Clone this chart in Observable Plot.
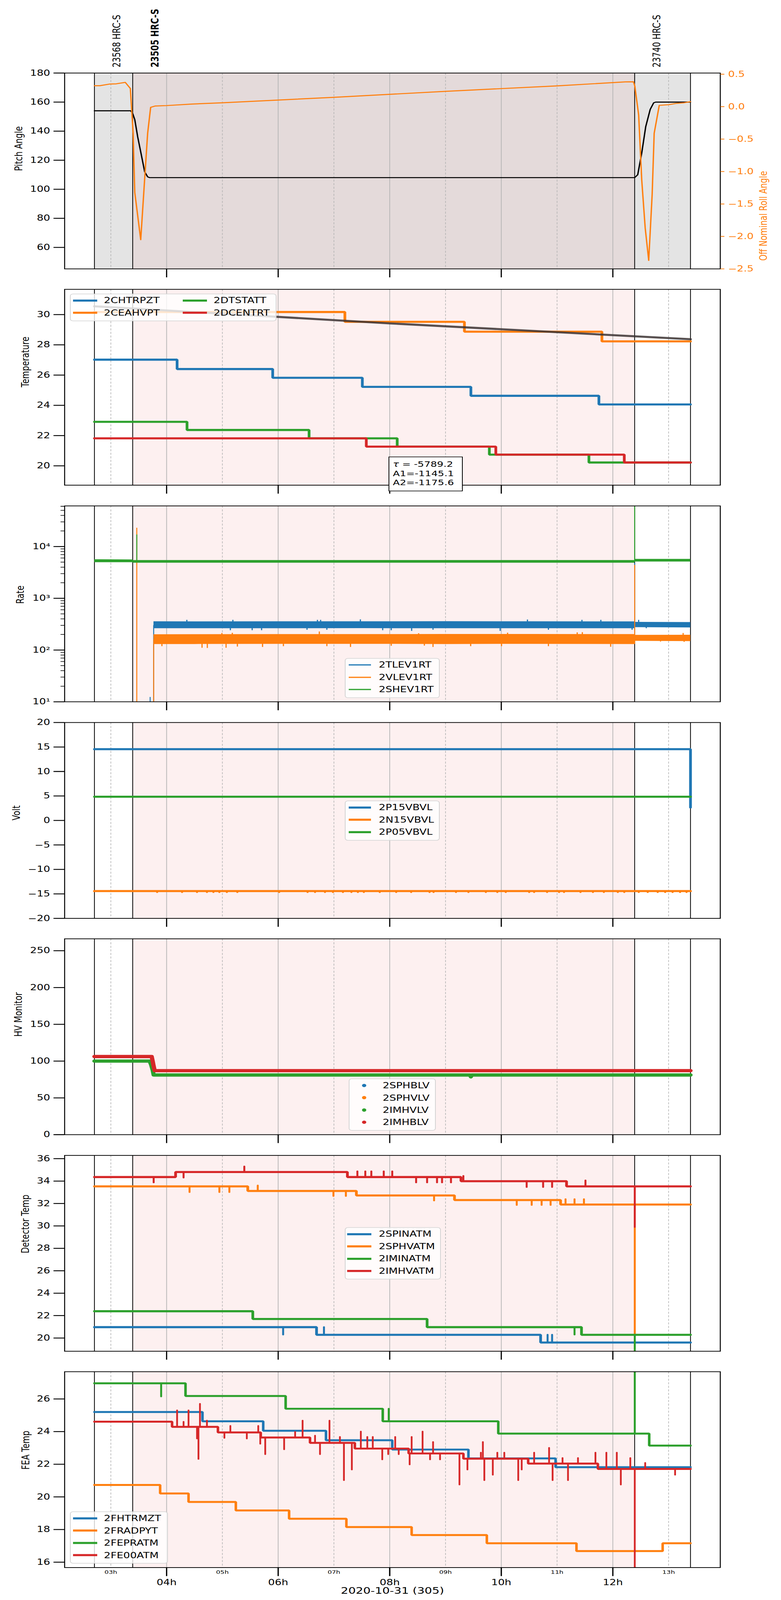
<!DOCTYPE html>
<html><head><meta charset="utf-8">
<script src="https://cdn.jsdelivr.net/npm/d3@7"></script>
<script src="https://cdn.jsdelivr.net/npm/@observablehq/plot@0.6"></script>
<style>
html,body{margin:0;padding:0;background:#fff;font-family:"DejaVu Sans",sans-serif;overflow:hidden;}
#wrap{position:relative;width:2000px;overflow:hidden;background:#fff;}
#fig{position:absolute;left:0;top:0;width:2000px;height:5400px;background:#fff;transform-origin:0 0;}
.legend{position:absolute;background:rgba(255,255,255,0.8);border:2px solid #d3d3d3;border-radius:8px;box-sizing:border-box;font-size:27px;color:#000;}
.legend .lab{position:absolute;line-height:1;white-space:nowrap;transform:translateY(-50%);}
.note{position:absolute;background:#fff;border:2px solid #000;box-sizing:border-box;font-size:26px;line-height:30.5px;padding:9px 0 0 9px;white-space:nowrap;}
</style></head>
<body><div id="wrap"><div id="fig"></div></div>
<script>
// ================= DATA (hours UTC on 2020-10-31) =================
const dateLabel = "2020-10-31 (305)";
const majorHours = [4, 6, 8, 10, 12];
const majorLabels = ["04h", "06h", "08h", "10h", "12h"];
const minorHours = [3, 5, 7, 9, 11, 13];
const minorLabels = ["03h", "05h", "07h", "09h", "11h", "13h"];
const obsIds = ["23568 HRC-S", "23505 HRC-S", "23740 HRC-S"];
const obsStart = [2.706, 3.392, 12.391];
const obsStop = [3.392, 12.391, 13.392];
const currentObs = 1;

// Pitch / roll
const pitchT = [2.706, 3.357, 3.393, 3.429, 3.482, 3.545, 3.607, 3.661, 3.696, 12.391, 12.446, 12.518, 12.589, 12.670, 12.732, 12.768, 13.392];
const pitchV = [154, 154, 152, 148, 136, 124, 112, 108.5, 108, 108, 110, 125, 143, 155, 159.5, 160, 160];
const rollT = [2.706, 2.804, 2.986, 3.098, 3.259, 3.350, 3.400, 3.429, 3.536, 3.600, 3.660, 3.714, 3.798, 4.001, 4.456, 5.001, 7.003, 8.997, 10.999, 12.223, 12.370, 12.394, 12.463, 12.518, 12.580, 12.643, 12.705, 12.741, 12.832, 13.000, 13.133, 13.280, 13.392];
const rollV = [0.323, 0.323, 0.349, 0.352, 0.374, 0.28, -0.41, -1.32, -2.05, -1.2, -0.41, -0.01, 0.01, 0.017, 0.04, 0.06, 0.144, 0.236, 0.32, 0.382, 0.383, 0.317, -0.13, -1.13, -1.87, -2.37, -1.35, -0.41, 0.02, 0.03, 0.05, 0.06, 0.077];

// Temperature
const tempNames = ["2CHTRPZT", "2CEAHVPT", "2DTSTATT", "2DCENTRT"];
const chtrT = [2.706, 4.188, 5.902, 7.509, 9.455, 11.750, 13.392];
const chtrV = [27.02, 26.40, 25.82, 25.22, 24.63, 24.06, 24.06];
const ceahT = [2.706, 7.196, 9.339, 11.804, 13.392];
const ceahV = [30.17, 29.52, 28.87, 28.23, 28.23];
const dtstT = [2.706, 4.366, 6.554, 8.134, 9.786, 11.571, 13.392];
const dtstV = [22.91, 22.37, 21.82, 21.27, 20.74, 20.22, 20.22];
const dcenT = [2.706, 7.580, 9.902, 12.205, 13.392];
const dcenV = [21.82, 21.27, 20.74, 20.22, 20.22];
const fitT = [2.706, 8.0, 13.392];
const fitV = [30.55, 29.42, 28.37];
const fitText = ["τ = -5789.2", "A1=-1145.1", "A2=-1175.6"];

// Rates
const rateNames = ["2TLEV1RT", "2VLEV1RT", "2SHEV1RT"];
const rateTicks = [10, 100, 1000, 10000];
const rateTickLabels = ["10¹", "10²", "10³", "10⁴"];
const greenBandT = [2.706, 3.392, 3.40, 12.385, 12.40, 13.392];
const greenLo = [4950, 4950, 4850, 4850, 5100, 5100];
const greenHi = [5650, 5600, 5450, 5450, 5750, 5750];
const bandT = [3.768, 4.5, 6, 7.5, 9, 10.5, 12.385, 12.40, 13.392];
const blueLo = [262, 262, 262, 263, 262, 262, 262, 275, 272];
const blueHi = [357, 356, 357, 357, 358, 357, 355, 348, 345];
const orangeLo = [130, 130, 131, 131, 130, 131, 130, 150, 148];
const orangeHi = [200, 201, 202, 202, 203, 203, 202, 195, 196];
const blueSpikeT = [4.363, 5.188, 6.704, 6.761, 7.474, 10.469, 11.446, 11.785, 12.463, 5.143, 5.534, 5.703, 6.517, 6.873, 7.874, 8.027, 8.393, 8.776, 9.980, 10.845, 12.345, 12.599];
const blueSpikeV = [381, 381, 381, 381, 389, 386, 381, 381, 381, 240, 240, 240, 245, 245, 240, 240, 233, 245, 233, 245, 245, 262];
const orangeSpikeT = [4.991, 5.178, 6.738, 8.518, 10.113, 11.361, 11.453, 13.260, 3.916, 4.635, 4.730, 5.066, 5.269, 5.720, 6.094, 6.873, 7.297, 8.027, 8.621, 8.776, 9.451, 10.004, 10.845, 11.961, 12.855, 13.278];
const orangeSpikeV = [212, 214, 227, 210, 215, 218, 220, 212, 118, 110, 109, 110, 116, 114, 118, 118, 114, 120, 121, 114, 118, 118, 118, 115, 145, 143];
const blueEventT = [3.705, 3.768, 12.391];
const blueEventFrom = [0.1, 0.1, 300];
const blueEventTo = [12.3, 300, 4800];
const orangeEventT = [3.465, 3.768, 12.391];
const orangeEventFrom = [0.1, 0.1, 130];
const orangeEventTo = [23000, 160, 4400];
const greenEventT = [3.465, 12.391];
const greenEventFrom = [5200, 5200];
const greenEventTo = [17000, 1e6];

// Volt
const voltNames = ["2P15VBVL", "2N15VBVL", "2P05VBVL"];
const p15T = [2.706, 13.390, 13.392];
const p15V = [14.55, 14.55, 2.65];
const n15T = [2.706, 13.392];
const n15V = [-14.43, -14.43];
const n15DipT = [3.830, 4.277, 4.545, 4.723, 4.839, 4.946, 5.080, 5.268, 6.018, 6.527, 6.661, 6.839, 6.982, 7.161, 7.313, 7.429, 7.536, 7.821, 8.116, 8.384, 8.714, 8.786, 9.188, 9.411, 9.723, 9.929, 10.080, 10.500, 10.589, 10.821, 11.036, 11.125, 11.420, 11.643, 11.839, 12.089, 12.205, 12.464, 12.625, 12.804, 12.938, 13.071, 13.205, 13.321];
const n15DipV = -14.70;
const p05T = [2.706, 13.392];
const p05V = [4.85, 4.85];

// HV monitor
const hvNames = ["2SPHBLV", "2SPHVLV", "2IMHVLV", "2IMHBLV"];
const imhvlvT = [2.706, 3.696, 3.723, 3.750, 3.768, 9.440, 9.455, 9.470, 13.392];
const imhvlvV = [100, 100, 95, 88, 81.1, 81.1, 78.6, 81.1, 81.1];
const imhblvT = [2.706, 3.732, 3.750, 3.768, 3.786, 13.392];
const imhblvV = [106.2, 106.2, 100, 93, 87, 87];

// Detector temp
const detNames = ["2SPINATM", "2SPHVATM", "2IMINATM", "2IMHVATM"];
const spinT = [2.706, 6.688, 10.705, 13.392];
const spinV = [20.97, 20.29, 19.60, 19.60];
const spinSpikeT = [6.089, 6.821, 10.830, 10.911];
const spinSpikeV = [20.29, 20.97, 20.29, 20.29];
const sphvT = [2.706, 5.455, 7.402, 9.161, 11.063, 13.392];
const sphvV = [33.53, 33.12, 32.72, 32.31, 31.91, 31.91];
const sphvSpikeT = [4.411, 4.946, 5.125, 5.634, 6.991, 7.214, 8.795, 10.277, 10.545, 10.723, 10.884, 11.152, 11.313, 11.482, 12.393];
const sphvSpikeV = [33.0, 33.0, 33.0, 33.6, 32.65, 32.65, 32.25, 31.85, 31.85, 31.85, 31.85, 32.38, 32.38, 32.38, 0];
const iminT = [2.706, 5.545, 8.670, 11.438, 13.392];
const iminV = [22.39, 21.70, 20.97, 20.29, 20.29];
const iminSpikeT = [11.313, 12.393];
const iminSpikeV = [20.29, 0];
const imhvT = [2.706, 4.161, 7.241, 9.277, 11.170, 13.392];
const imhvV = [34.36, 34.81, 34.36, 33.99, 33.53, 33.53];
const imhvSpikeT = [3.768, 4.304, 5.393, 7.420, 7.562, 7.670, 7.893, 8.045, 8.473, 8.670, 8.848, 8.938, 9.098, 9.320, 10.455, 10.750, 10.911, 11.509, 12.393];
const imhvSpikeV = [33.86, 34.29, 35.30, 34.86, 34.86, 34.86, 34.86, 34.86, 33.86, 33.86, 33.86, 33.86, 33.86, 34.45, 33.45, 33.45, 33.45, 34.05, 29.89];

// FEA temp
const feaNames = ["2FHTRMZT", "2FRADPYT", "2FEPRATM", "2FE00ATM"];
const fhtrT = [2.706, 4.643, 5.732, 6.857, 8.045, 9.411, 10.973, 13.392];
const fhtrV = [25.2, 24.63, 24.05, 23.47, 22.9, 22.36, 21.82, 21.82];
const fradT = [2.706, 3.884, 4.393, 5.241, 6.196, 7.223, 8.393, 9.741, 11.348, 12.893, 13.392];
const fradV = [20.73, 20.21, 19.69, 19.17, 18.66, 18.15, 17.66, 17.16, 16.68, 17.16, 17.16];
const feprT = [2.706, 4.339, 6.134, 7.875, 9.946, 12.652, 13.392];
const feprV = [26.96, 26.18, 25.4, 24.63, 23.88, 23.14, 23.14];
const feprSpikeT = [3.902, 7.982, 12.393];
const feprSpikeV = [26.14, 25.4, 40];
const fe00T = [2.706, 4.098, 4.920, 5.688, 6.571, 7.375, 8.339, 9.321, 10.482, 11.732, 13.392];
const fe00V = [24.61, 24.29, 23.95, 23.64, 23.31, 22.96, 22.66, 22.34, 22.04, 21.71, 21.71];
const fe00SpikeT = [4.188, 4.304, 4.393, 4.545, 4.571, 4.598, 4.723, 5.036, 5.143, 5.438, 5.643, 5.679, 5.768, 6.107, 6.304, 6.438, 6.661, 6.750, 6.920, 7.107, 7.179, 7.321, 7.482, 7.598, 7.696, 7.866, 7.973, 8.098, 8.161, 8.357, 8.393, 8.589, 8.723, 8.777, 8.902, 9.250, 9.393, 9.634, 9.670, 9.696, 9.848, 9.929, 10.054, 10.304, 10.366, 10.589, 10.857, 10.920, 11.098, 11.196, 11.375, 11.688, 11.884, 12.071, 12.143, 12.313, 12.393, 12.580, 13.116];
const fe00SpikeV = [25.3, 24.6, 25.3, 23.56, 22.31, 25.7, 24.67, 23.6, 24.35, 23.56, 24.35, 23.24, 22.6, 22.9, 23.98, 24.67, 23.75, 22.6, 24.67, 23.67, 21.01, 21.66, 24.0, 23.67, 23.67, 22.28, 22.6, 23.67, 22.6, 21.97, 23.67, 24.0, 22.28, 23.36, 22.28, 20.74, 21.66, 22.71, 23.36, 21.01, 21.34, 22.71, 22.71, 21.01, 21.66, 22.71, 23.0, 21.01, 22.38, 21.01, 22.38, 22.71, 22.71, 22.71, 20.74, 22.38, 0, 22.08, 21.34];

// ================= HELPERS =================
const H = h => new Date(Date.UTC(2020, 9, 31) + h * 3600000);
const series = (T, V) => T.map((t, i) => ({t: H(t), v: V[i]}));
const baseAt = (T, V, t) => { let k = 0; for (let i = 0; i < T.length; i++) if (T[i] <= t) k = i; return V[k]; };
const spikes = (T, V, ST, SV) => ST.map((t, i) => ({t: H(t), b: baseAt(T, V, t), v: SV[i]}));
const events = (T, F, E) => T.map((t, i) => ({t: H(t), b: F[i], v: E[i]}));
const band = (T, lo, hi) => T.map((t, i) => ({t: H(t), lo: lo[i], hi: hi[i]}));

const C = {blue: "#1f77b4", orange: "#ff7f0e", green: "#2ca02c", red: "#d62728"};
const fig = document.getElementById("fig");
const wrap = document.getElementById("wrap");
// the browser viewport may be shorter than the 5400px design; fit the design height into it
const viewH = Math.min(window.innerHeight || 5400, 5400);
const fitScale = viewH / 5400;
wrap.style.height = viewH + "px";
fig.style.transform = `scale(1, ${fitScale})`;

const FRAME_H = 661, LEFT = 165, RIGHT = 156, W = 2000, FRAME_W = W - LEFT - RIGHT;
const xDomain = [H(2.1717), H(13.926)];
const obsIdx = obsIds.map((_, i) => i);
const bounds = [obsStart[0], ...obsStop];
const baseStyle = {fontFamily: "DejaVu Sans, sans-serif", background: "transparent", position: "absolute", left: "0px"};

function common(topPanel) {
  const span = {x1: i => H(obsStart[i]), x2: i => H(obsStop[i])};
  const m = [];
  if (topPanel) {
    m.push(Plot.rect(obsIdx.filter(i => i !== currentObs), {...span, fill: "#e4e4e4"}));
    m.push(Plot.rect([currentObs], {...span, fill: "#e4dada"}));
  } else {
    m.push(Plot.rect([currentObs], {...span, fill: "#fdf0f0"}));
  }
  m.push(Plot.ruleX(minorHours.map(H), {stroke: "#b3b3b3", strokeWidth: 1.6, strokeDasharray: "7,5"}));
  m.push(Plot.ruleX(majorHours.map(H), {stroke: "#b3b3b3", strokeWidth: 1.8}));
  m.push(Plot.ruleX(bounds.map(H), {stroke: "#000", strokeWidth: 2}));
  return m;
}

function panel({top, mt = 25, mb = 44, y, marks, yTicks, yFmt, yLabel, yLabelDx, topPanel = false, bottom = false, minorYTicks}) {
  const m = [...common(topPanel), ...marks, Plot.frame({stroke: "#000", strokeWidth: 2.5}),
    Plot.axisY({ticks: yTicks, tickFormat: yFmt, tickSize: 28, tickPadding: 9, fontSize: 27, strokeWidth: 3, label: null}),
    Plot.text([yLabel], {text: d => d, frameAnchor: "left", rotate: -90, dx: yLabelDx, fontSize: 27})];
  if (minorYTicks) m.push(Plot.ruleY(minorYTicks, {stroke: "#000", strokeWidth: 2, insetLeft: -10, insetRight: FRAME_W}));
  m.push(Plot.ruleX(majorHours.map(H), {stroke: "#000", strokeWidth: 3, insetTop: FRAME_H, insetBottom: -29}));
  if (bottom) {
    m.push(Plot.axisX({ticks: majorHours.map(H), tickSize: 29, tickPadding: 11, strokeWidth: 3, fontSize: 27, label: null,
      tickFormat: d => majorLabels[majorHours.indexOf(d.getUTCHours())]}));
    m.push(Plot.axisX({ticks: minorHours.map(H), tickSize: 0, tickPadding: 9, fontSize: 17, label: null,
      tickFormat: d => minorLabels[minorHours.indexOf(d.getUTCHours())]}));
    m.push(Plot.text([dateLabel], {text: d => d, frameAnchor: "bottom", dy: 88, fontSize: 30}));
  }
  const svg = Plot.plot({width: W, height: mt + FRAME_H + mb, marginTop: mt, marginBottom: mb, marginLeft: LEFT, marginRight: RIGHT,
    x: {type: "utc", domain: xDomain, axis: bottom ? undefined : null}, y: {...y, axis: null}, style: {...baseStyle, top: (top - mt) + "px"}, marks: m});
  fig.append(svg);
  return svg;
}

const stepLine = (T, V, color, w = 7) => Plot.line(series(T, V), {x: "t", y: "v", stroke: color, strokeWidth: w, curve: "step-after", strokeLinejoin: "miter", clip: true});
const spikeRules = (T, V, ST, SV, color, w = 5) => Plot.ruleX(spikes(T, V, ST, SV), {x: "t", y1: "b", y2: "v", stroke: color, strokeWidth: w, strokeLinecap: "round", clip: true});

// ================= PANEL 1: pitch & roll =================
panel({top: 246, mt: 246, mb: 40, topPanel: true, y: {domain: [45.2, 180]}, yTicks: [60, 80, 100, 120, 140, 160, 180],
  yLabel: "Pitch Angle", yLabelDx: -117,
  marks: [
    Plot.line(series(pitchT, pitchV), {x: "t", y: "v", stroke: "#000", strokeWidth: 3.5}),
    Plot.text(obsIdx.filter(i => i !== currentObs), {x: i => H(obsStart[i]), text: i => obsIds[i], frameAnchor: "top", rotate: -90, textAnchor: "start", dx: 47, dy: -19, fontSize: 27}),
    Plot.text([currentObs], {x: i => H(obsStart[i]), text: i => obsIds[i], frameAnchor: "top", rotate: -90, textAnchor: "start", dx: 47, dy: -19, fontSize: 27, fontWeight: "bold"})
  ]});
fig.append(Plot.plot({width: W, height: 246 + FRAME_H + 40, marginTop: 246, marginBottom: 40, marginLeft: LEFT, marginRight: RIGHT,
  x: {type: "utc", domain: xDomain, axis: null}, y: {domain: [-2.5, 0.518]}, style: {...baseStyle, top: "0px"},
  marks: [
    Plot.line(series(rollT, rollV), {x: "t", y: "v", stroke: C.orange, strokeWidth: 3.5}),
    Plot.axisY({anchor: "right", ticks: [-2.5, -2, -1.5, -1, -0.5, 0, 0.5], tickFormat: d3.format(".1f"), tickSize: 10, tickPadding: 10, fontSize: 27, color: C.orange, strokeWidth: 2.5, label: null}),
    Plot.text(["Off Nominal Roll Angle"], {text: d => d, frameAnchor: "right", rotate: -90, dx: 111, fontSize: 27, fill: C.orange})
  ]}));

// ================= PANEL 2: temperature =================
panel({top: 976, y: {domain: [18.72, 31.67]}, yTicks: [20, 22, 24, 26, 28, 30], yLabel: "Temperature", yLabelDx: -100,
  marks: [
    stepLine(chtrT, chtrV, C.blue), stepLine(ceahT, ceahV, C.orange), stepLine(dtstT, dtstV, C.green), stepLine(dcenT, dcenV, C.red),
    Plot.line(series(fitT, fitV), {x: "t", y: "v", stroke: "#3b3333", strokeOpacity: 0.85, strokeWidth: 7})
  ]});

// ================= PANEL 3: rates =================
const rateMinor = [1, 2, 3, 4].flatMap(e => [2, 3, 4, 5, 6, 7, 8, 9].map(k => k * 10 ** e)).filter(v => v < 61000);
const blueMid = Math.sqrt(d3.mean(blueLo) * d3.mean(blueHi));
const orangeMid = Math.sqrt(d3.mean(orangeLo) * d3.mean(orangeHi));
panel({top: 1707, y: {type: "log", domain: [10, 61000]}, yTicks: rateTicks, yFmt: d => rateTickLabels[rateTicks.indexOf(d)],
  minorYTicks: rateMinor, yLabel: "Rate", yLabelDx: -113,
  marks: [
    Plot.areaY(band(bandT, blueLo, blueHi), {x: "t", y1: "lo", y2: "hi", fill: C.blue}),
    Plot.ruleX(blueSpikeT.map((t, i) => ({t: H(t), b: blueMid, v: blueSpikeV[i]})), {x: "t", y1: "b", y2: "v", stroke: C.blue, strokeWidth: 3}),
    Plot.ruleX(events(blueEventT, blueEventFrom, blueEventTo), {x: "t", y1: "b", y2: "v", stroke: C.blue, strokeWidth: 2.5, clip: true}),
    Plot.areaY(band(bandT, orangeLo, orangeHi), {x: "t", y1: "lo", y2: "hi", fill: C.orange}),
    Plot.ruleX(orangeSpikeT.map((t, i) => ({t: H(t), b: orangeMid, v: orangeSpikeV[i]})), {x: "t", y1: "b", y2: "v", stroke: C.orange, strokeWidth: 3}),
    Plot.ruleX(events(orangeEventT, orangeEventFrom, orangeEventTo), {x: "t", y1: "b", y2: "v", stroke: C.orange, strokeWidth: 2.5, clip: true}),
    Plot.areaY(band(greenBandT, greenLo, greenHi), {x: "t", y1: "lo", y2: "hi", fill: C.green}),
    Plot.ruleX(events(greenEventT, greenEventFrom, greenEventTo), {x: "t", y1: "b", y2: "v", stroke: C.green, strokeWidth: 2.5, clip: true})
  ]});

// ================= PANEL 4: volt =================
panel({top: 2438, y: {domain: [-20, 20]}, yTicks: [-20, -15, -10, -5, 0, 5, 10, 15, 20], yLabel: "Volt", yLabelDx: -123,
  marks: [
    stepLine(p15T, p15V, C.blue),
    stepLine(n15T, n15V, C.orange),
    Plot.ruleX(n15DipT.map(t => ({t: H(t), b: n15V[0], v: n15DipV})), {x: "t", y1: "b", y2: "v", stroke: C.orange, strokeWidth: 5, strokeLinecap: "round"}),
    stepLine(p05T, p05V, C.green)
  ]});

// ================= PANEL 5: HV monitor =================
panel({top: 3168, y: {domain: [0, 266.2]}, yTicks: [0, 50, 100, 150, 200, 250], yLabel: "HV Monitor", yLabelDx: -118,
  marks: [
    Plot.line(series(imhvlvT, imhvlvV), {x: "t", y: "v", stroke: C.green, strokeWidth: 11, strokeLinecap: "round", strokeLinejoin: "round"}),
    Plot.line(series(imhblvT, imhblvV), {x: "t", y: "v", stroke: C.red, strokeWidth: 11, strokeLinecap: "round", strokeLinejoin: "round"})
  ]});

// ================= PANEL 6: detector temp =================
panel({top: 3899, y: {domain: [18.82, 36.29]}, yTicks: [20, 22, 24, 26, 28, 30, 32, 34, 36], yLabel: "Detector Temp", yLabelDx: -100,
  marks: [
    stepLine(spinT, spinV, C.blue), spikeRules(spinT, spinV, spinSpikeT, spinSpikeV, C.blue),
    stepLine(sphvT, sphvV, C.orange), spikeRules(sphvT, sphvV, sphvSpikeT, sphvSpikeV, C.orange),
    stepLine(iminT, iminV, C.green), spikeRules(iminT, iminV, iminSpikeT, iminSpikeV, C.green),
    stepLine(imhvT, imhvV, C.red), spikeRules(imhvT, imhvV, imhvSpikeT, imhvSpikeV, C.red)
  ]});

// ================= PANEL 7: FEA temp =================
panel({top: 4629, mb: 110, bottom: true, y: {domain: [15.67, 27.67]}, yTicks: [16, 18, 20, 22, 24, 26], yLabel: "FEA Temp", yLabelDx: -99,
  marks: [
    stepLine(fhtrT, fhtrV, C.blue, 6.5),
    stepLine(fradT, fradV, C.orange, 6.5),
    stepLine(feprT, feprV, C.green, 6.5), spikeRules(feprT, feprV, feprSpikeT, feprSpikeV, C.green),
    stepLine(fe00T, fe00V, C.red, 6.5), spikeRules(fe00T, fe00V, fe00SpikeT, fe00SpikeV, C.red, 4.5)
  ]});

// ================= LEGENDS & NOTE =================
function addLegend(spec, names, colors) {
  const cols = spec.cols || 1;
  const rows = Math.ceil(names.length / cols);
  const box = document.createElement("div");
  box.className = "legend";
  Object.assign(box.style, {left: spec.left + "px", top: spec.top + "px", width: spec.width + "px", height: (10 + 41.5 * rows) + "px"});
  names.forEach((name, k) => {
    const r = k % rows, c = Math.floor(k / rows);
    const cy = 21 + 41.5 * r, ox = (spec.colStep || 0) * c - 2;
    const h = document.createElement("div");
    if (spec.dot) {
      Object.assign(h.style, {position: "absolute", left: (ox + spec.dotX - 5.5) + "px", top: (cy - 5.5) + "px", width: "11px", height: "11px", borderRadius: "50%", background: colors[k]});
    } else {
      Object.assign(h.style, {position: "absolute", left: (ox + spec.hx) + "px", top: (cy - spec.lw / 2) + "px", width: spec.hw + "px", height: spec.lw + "px", background: colors[k]});
    }
    box.append(h);
    const t = document.createElement("div");
    t.className = "lab";
    t.textContent = name;
    Object.assign(t.style, {left: (ox + 87) + "px", top: cy + "px"});
    box.append(t);
  });
  fig.append(box);
}
const col4 = [C.blue, C.orange, C.green, C.red];
const col3 = [C.blue, C.orange, C.green];
addLegend({left: 179, top: 991, width: 529, cols: 2, colStep: 281, hx: 8, hw: 62, lw: 7}, tempNames, col4);
addLegend({left: 883, top: 2221, width: 243, hx: 10, hw: 57, lw: 4}, rateNames, col3);
addLegend({left: 883, top: 2702, width: 243, hx: 10, hw: 57, lw: 7}, voltNames, col3);
addLegend({left: 893, top: 3640, width: 223, dot: true, dotX: 39}, hvNames, col4);
addLegend({left: 883, top: 4142, width: 246, hx: 6, hw: 62, lw: 7}, detNames, col4);
addLegend({left: 179, top: 5101, width: 251, hx: 8, hw: 62, lw: 7}, feaNames, col4);

const note = document.createElement("div");
note.className = "note";
Object.assign(note.style, {left: "995px", top: "1541px", width: "190px", height: "117px"});
note.innerHTML = fitText.map(s => s.replace("τ", "<i>τ</i>")).join("<br>");
fig.append(note);
</script></body></html>
